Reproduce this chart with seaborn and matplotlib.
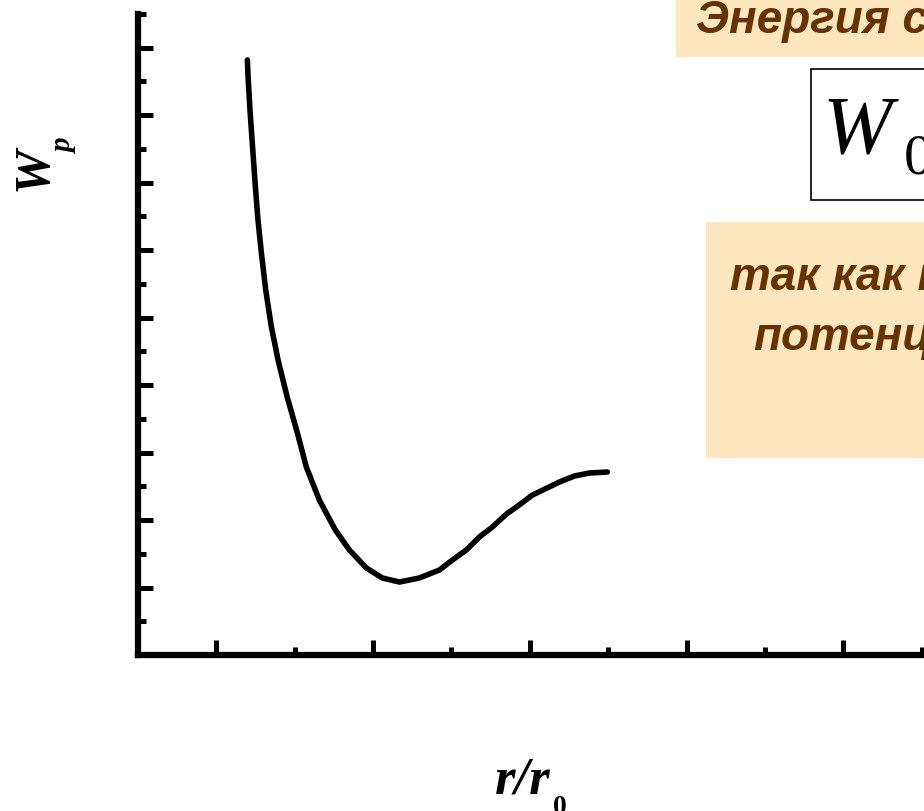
import numpy as np
import matplotlib
matplotlib.use("Agg")
import matplotlib.pyplot as plt
from matplotlib.patches import Rectangle
from matplotlib.ticker import MultipleLocator
import seaborn as sns

# curve (x in r/r0, y in tick units)
r_ratio = [1.198, 1.202, 1.215, 1.231, 1.247, 1.265, 1.288, 1.315, 1.350,
           1.395, 1.452, 1.517, 1.574, 1.657, 1.759, 1.849, 1.957, 2.059,
           2.168, 2.295, 2.423, 2.506, 2.595, 2.678, 2.761, 2.851, 2.915,
           3.017, 3.189, 3.285, 3.380, 3.495]
w_p = [8.815, 8.578, 8.059, 7.526, 6.993, 6.459, 5.941, 5.407, 4.874,
       4.356, 3.822, 3.289, 2.785, 2.296, 1.852, 1.556, 1.289, 1.141,
       1.081, 1.141, 1.259, 1.407, 1.556, 1.748, 1.896, 2.089, 2.193,
       2.370, 2.563, 2.652, 2.696, 2.711]

slide_line1 = "Энергия связи"
slide_line2 = "так как при"
slide_line3 = "потенциальная"

W_PX, H_PX = 924, 811
BROWN = "#663300"
TAN = "#FEE6BF"

sns.set_theme(style="ticks")
plt.rcParams["font.family"] = ["Liberation Sans", "DejaVu Sans"]

fig = plt.figure(figsize=(W_PX / 100, H_PX / 100), dpi=100)
fig.patch.set_facecolor("white")


def fx(px):
    return px / W_PX


def fy(py):
    return 1 - py / H_PX


# axes: y axis at px 138, x axis at py 655, top at py 13.75
ax = fig.add_axes([fx(138), fy(655), (1000 - 138) / W_PX, (655 - 13.75) / H_PX])
ax.set_facecolor("white")
sns.lineplot(x=r_ratio, y=w_p, ax=ax, color="black", linewidth=4.0,
             solid_capstyle="round", solid_joinstyle="round")
ax.set_xlim(0.5, 6.0)
ax.set_ylim(0, 9.5)
sns.despine(ax=ax)
for s in ["left", "bottom"]:
    ax.spines[s].set_linewidth(4.5)
    ax.spines[s].set_color("black")
ax.xaxis.set_major_locator(MultipleLocator(1))
ax.xaxis.set_minor_locator(MultipleLocator(0.5))
ax.yaxis.set_major_locator(MultipleLocator(1))
ax.yaxis.set_minor_locator(MultipleLocator(0.5))
ax.tick_params(which="major", direction="in", length=11, width=3.6,
               color="black", labelleft=False, labelbottom=False)
ax.tick_params(which="minor", direction="in", length=6, width=3.6,
               color="black")
ax.set_xlabel("")
ax.set_ylabel("")

# axis labels
serif = ["Liberation Serif", "DejaVu Serif"]
fig.text(fx(47), fy(191), "W", rotation=90, rotation_mode="anchor",
         ha="left", va="baseline", fontsize=36, fontweight="bold",
         fontstyle="italic", family=serif, color="black")
fig.text(fx(72), fy(154), "p", rotation=90, rotation_mode="anchor",
         ha="left", va="baseline", fontsize=21, fontweight="bold",
         fontstyle="italic", family=serif, color="black")
fig.text(fx(495), fy(793), "r/r", ha="left", va="baseline", fontsize=38,
         fontweight="bold", fontstyle="italic", family=serif, color="black")
fig.text(fx(553), fy(814), "0", ha="left", va="baseline", fontsize=20,
         fontweight="bold", family=serif, color="black")

# slide boxes
fig.patches.append(Rectangle((fx(676), fy(57)), fx(300), 57 / H_PX,
                             transform=fig.transFigure, facecolor=TAN,
                             edgecolor="none", zorder=0))
fig.patches.append(Rectangle((fx(706), fy(458)), fx(300), (458 - 222) / H_PX,
                             transform=fig.transFigure, facecolor=TAN,
                             edgecolor="none", zorder=0))
fig.patches.append(Rectangle((fx(811), fy(200)), fx(300), (200 - 69) / H_PX,
                             transform=fig.transFigure, facecolor="white",
                             edgecolor="black", linewidth=1.2, zorder=0))

fig.text(fx(696), fy(33), slide_line1, ha="left", va="baseline", fontsize=33,
         fontweight="bold", fontstyle="italic", color=BROWN)
fig.text(fx(730), fy(290), slide_line2, ha="left", va="baseline", fontsize=33,
         fontweight="bold", fontstyle="italic", color=BROWN)
fig.text(fx(753), fy(350), slide_line3, ha="left", va="baseline", fontsize=33,
         fontweight="bold", fontstyle="italic", color=BROWN)

fig.text(fx(822), fy(153), "W", ha="left", va="baseline", fontsize=60,
         fontstyle="italic", family=serif, color="black")
fig.text(fx(904), fy(173), "0", ha="left", va="baseline", fontsize=42,
         family=serif, color="black")

fig.savefig("out.png", dpi=100)
